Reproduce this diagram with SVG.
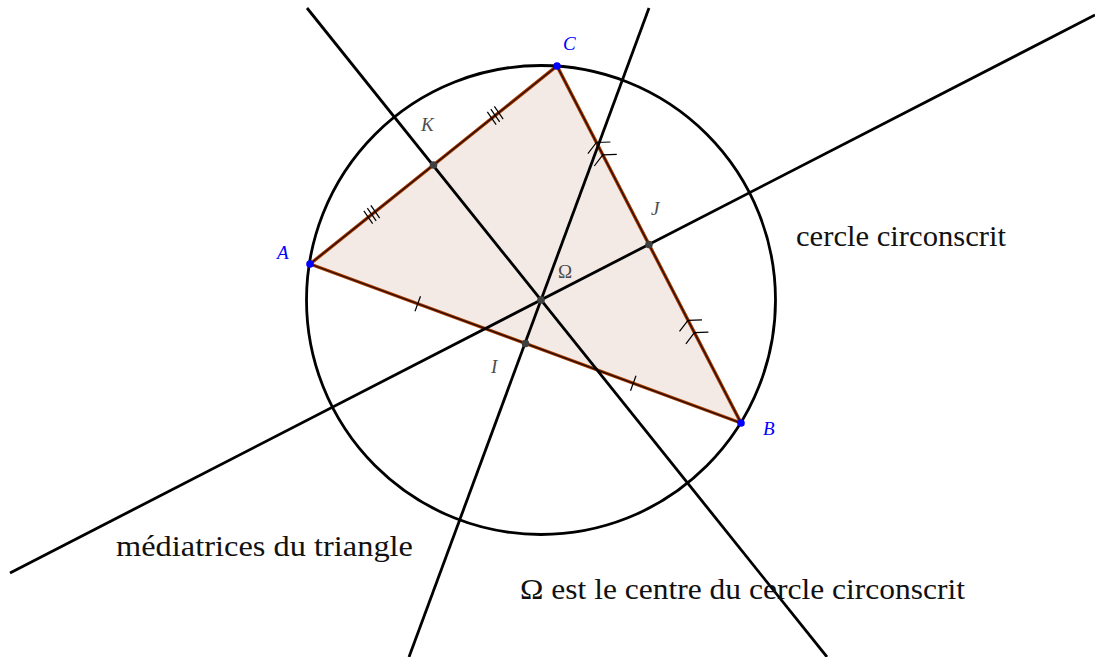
<svg xmlns="http://www.w3.org/2000/svg" width="1095" height="657" viewBox="0 0 1095 657">
  <style>
    .ln { stroke: #000; stroke-width: 2.8; fill: none; stroke-linecap: butt; }
    .edge-o { stroke: #a63c00; stroke-width: 3.4; fill: none; stroke-linecap: round; }
    .edge-i { stroke: #2a0a00; stroke-width: 1.3; fill: none; stroke-linecap: round; }
    .tick { stroke: #000; stroke-width: 1.2; fill: none; }
    .pt-blue { fill: #0000ff; }
    .pt-gray { fill: #404040; }
    .lbl-blue { font-family: "Liberation Serif", "DejaVu Serif", serif; font-style: italic; font-size: 19px; fill: #0000ff; }
    .lbl-gray { font-family: "Liberation Serif", "DejaVu Serif", serif; font-style: italic; font-size: 19px; fill: #4d4d4d; }
    .lbl-greek { font-family: "Liberation Serif", "DejaVu Serif", serif; font-size: 19px; fill: #4d4d4d; }
    .txt { font-family: "Liberation Serif", "DejaVu Serif", serif; font-size: 29px; fill: #111; }
  </style>

  <g id="triangle">
    <polygon points="310,264 741,423 557,66" fill="#f3eae6" stroke="none"/>
    <polygon points="310,264 741,423 557,66" class="edge-o"/>
    <polygon points="310,264 741,423 557,66" class="edge-i"/>
  </g>

  <g id="connectors">
    <circle id="circumcircle" cx="541" cy="300" r="234.5" class="ln"/>
    <line x1="409" y1="657" x2="649" y2="8" class="ln"/>
    <line x1="10" y1="573" x2="1095" y2="15" class="ln"/>
    <line x1="307" y1="8" x2="827" y2="657" class="ln"/>
  </g>

  <g id="marks">
    <!-- single ticks on AB -->
    <line x1="415.0" y1="311.2" x2="420.5" y2="296.3" class="tick"/>
    <line x1="630.5" y1="390.7" x2="636.0" y2="375.8" class="tick"/>
    <!-- triple ticks on AC -->
    <g transform="translate(371.75,214.5)">
      <line x1="-4.4" y1="-6.4" x2="4.4" y2="6.4" class="tick" transform="translate(-3.5,2.8)"/>
      <line x1="-4.4" y1="-6.4" x2="4.4" y2="6.4" class="tick"/>
      <line x1="-4.4" y1="-6.4" x2="4.4" y2="6.4" class="tick" transform="translate(3.5,-2.8)"/>
    </g>
    <g transform="translate(495.25,115.5)">
      <line x1="-4.4" y1="-6.4" x2="4.4" y2="6.4" class="tick" transform="translate(-3.5,2.8)"/>
      <line x1="-4.4" y1="-6.4" x2="4.4" y2="6.4" class="tick"/>
      <line x1="-4.4" y1="-6.4" x2="4.4" y2="6.4" class="tick" transform="translate(3.5,-2.8)"/>
    </g>
    <!-- arrow marks on BC -->
    <path d="M587.9,153.6 L596.4,142.5 L610.4,142.0 M594.3,166.0 L602.8,154.9 L616.8,154.4" class="tick"/>
    <path d="M679.5,331.4 L688.0,320.3 L702.0,319.8 M685.9,343.8 L694.4,332.7 L708.4,332.2" class="tick"/>
  </g>

  <g id="point-A">
    <circle cx="310" cy="264" r="3.8" class="pt-blue"/>
    <text x="277" y="259" class="lbl-blue">A</text>
  </g>
  <g id="point-B">
    <circle cx="741" cy="423" r="3.8" class="pt-blue"/>
    <text x="763" y="435" class="lbl-blue">B</text>
  </g>
  <g id="point-C">
    <circle cx="557" cy="66" r="3.8" class="pt-blue"/>
    <text x="563" y="50" class="lbl-blue">C</text>
  </g>
  <g id="point-K">
    <circle cx="433.5" cy="165" r="3.8" class="pt-gray"/>
    <text x="421" y="131" class="lbl-gray">K</text>
  </g>
  <g id="point-J">
    <circle cx="649" cy="244.5" r="3.8" class="pt-gray"/>
    <text x="651" y="215" class="lbl-gray">J</text>
  </g>
  <g id="point-I">
    <circle cx="525.5" cy="343.5" r="3.8" class="pt-gray"/>
    <text x="491" y="373" class="lbl-gray">I</text>
  </g>
  <g id="point-Omega">
    <circle cx="541" cy="300" r="3.8" class="pt-gray"/>
    <text x="558" y="278" class="lbl-greek">Ω</text>
  </g>

  <g id="texts">
    <text x="796" y="246" class="txt" textLength="210" lengthAdjust="spacingAndGlyphs">cercle circonscrit</text>
    <text x="116" y="556" class="txt" textLength="297" lengthAdjust="spacingAndGlyphs">médiatrices du triangle</text>
    <text x="520" y="599" class="txt" textLength="445" lengthAdjust="spacingAndGlyphs">Ω est le centre du cercle circonscrit</text>
  </g>
</svg>
